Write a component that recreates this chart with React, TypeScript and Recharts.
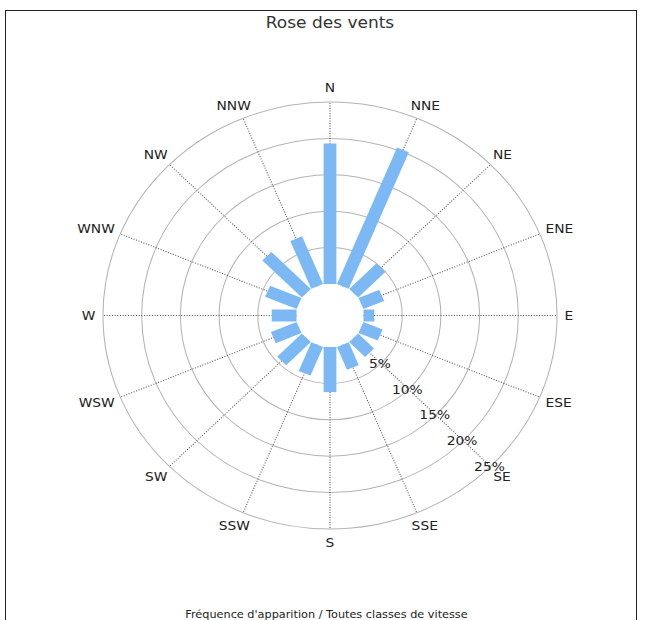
import React from 'react';
import { RadarChart, PolarGrid, PolarAngleAxis, PolarRadiusAxis, Radar } from 'recharts';

// ---- data ----
const directions = ['N', 'NNE', 'NE', 'ENE', 'E', 'ESE', 'SE', 'SSE', 'S', 'SSW', 'SW', 'WSW', 'W', 'WNW', 'NW', 'NNW'];
const frequencies = [19.3, 20.3, 5.0, 2.9, 1.4, 2.7, 2.9, 3.4, 6.2, 4.25, 4.5, 3.6, 3.2, 4.4, 7.2, 7.1];
const radiusTicks = [5, 10, 15, 20, 25];
const radiusDomain = [0, 25];
const titleText = 'Rose des vents';
const footerText = "Fréquence d'apparition / Toutes classes de vitesse";

const data = directions.map((dir, i) => ({ dir, value: frequencies[i] }));

// ---- layout ----
const W = 648;
const H = 620;
const CX = 330;
const CY = 315.5;
const INNER = 31.5;
const OUTER = 213.5;
const STRETCH_X = 1.0633;
const BAR_W = 12;
const BAR_COLOR = '#7cb9f4';
const FONT = '"DejaVu Sans", Verdana, sans-serif';
const LABEL_SIZE = 13;
const LABEL_GAP = 7;
const CHAR_EM: Record<string, number> = { N: 0.748, E: 0.632, S: 0.635, W: 0.989 };

const BarsShape = (props: any) => {
  const pts = props.points || [];
  return (
    <g className="wind-bars">
      {pts.map((p: any, i: number) => {
        const cx = p.cx ?? CX;
        const cy = p.cy ?? CY;
        const r = Math.hypot(p.x - cx, p.y - cy);
        if (!r || r <= INNER) return null;
        const ux = (p.x - cx) / r;
        const uy = (p.y - cy) / r;
        const nx = -uy * (BAR_W / 2);
        const ny = ux * (BAR_W / 2);
        const sx = cx + ux * INNER;
        const sy = cy + uy * INNER;
        const d = `M${sx + nx},${sy + ny} L${p.x + nx},${p.y + ny} L${p.x - nx},${p.y - ny} L${sx - nx},${sy - ny} Z`;
        return <path key={i} d={d} fill={BAR_COLOR} stroke="none" />;
      })}
    </g>
  );
};

const AngleTick = (props: any) => {
  const { x, y, payload } = props;
  const cx = props.cx ?? CX;
  const cy = props.cy ?? CY;
  const label = String(payload.value);
  const r = Math.hypot(x - cx, y - cy) || 1;
  const ux = (x - cx) / r;
  const uy = (y - cy) / r;
  const w = label.split('').reduce((s, c) => s + (CHAR_EM[c] ?? 0.7), 0) * LABEL_SIZE;
  const h = 14;
  const tx = cx + ux * (OUTER + LABEL_GAP) + ux * (w / 2);
  const ty = cy + uy * (OUTER + LABEL_GAP) + uy * (h / 2);
  return (
    <text x={tx} y={ty} textAnchor="middle" dominantBaseline="central" fontFamily={FONT} fontSize={LABEL_SIZE} fill="#222">
      {label}
    </text>
  );
};

const RadiusTick = (props: any) => {
  const { x, y, payload } = props;
  if (!payload || payload.value === 0) return null;
  return (
    <text x={x - 1} y={y} textAnchor="middle" dominantBaseline="central" fontFamily={FONT} fontSize={13} fill="#222">
      {`${payload.value}%`}
    </text>
  );
};

export default function App() {
  return (
    <div style={{ position: 'absolute', left: 0, top: 0, width: W, height: H, overflow: 'hidden', background: '#fff' }}>
      <div
        style={{
          position: 'absolute',
          left: 5,
          top: 10,
          width: 632,
          height: 680,
          border: '1px solid #222',
          boxSizing: 'border-box',
        }}
      />
      <div
        style={{
          position: 'absolute',
          left: 0,
          top: 0,
          width: W,
          height: H,
          transform: `scaleX(${STRETCH_X})`,
          transformOrigin: `${CX}px 0px`,
        }}
      >
        <RadarChart
          width={W}
          height={H}
          data={data}
          cx={CX}
          cy={CY}
          innerRadius={INNER}
          outerRadius={OUTER}
          startAngle={90}
          endAngle={-270}
          margin={{ top: 0, right: 0, bottom: 0, left: 0 }}
        >
          <PolarGrid gridType="circle" radialLines={false} stroke="#b4b4b4" strokeWidth={1} />
          <PolarGrid gridType="circle" polarRadius={[]} stroke="#555" strokeWidth={1} strokeDasharray="1 1.5" />
          <Radar dataKey="value" isAnimationActive={false} shape={BarsShape} fill={BAR_COLOR} stroke="none" dot={false} />
          <PolarAngleAxis dataKey="dir" tick={AngleTick} tickLine={false} axisLine={false} tickSize={16} />
          <PolarRadiusAxis
            type="number"
            angle={-45}
            domain={radiusDomain}
            ticks={radiusTicks}
            tickCount={6}
            axisLine={false}
            tickLine={false}
            tick={RadiusTick}
          />
        </RadarChart>
        <svg
          width={W}
          height={H}
          style={{ position: 'absolute', left: 0, top: 0, pointerEvents: 'none' }}
        >
          <text x={CX} y={23} textAnchor="middle" dominantBaseline="central" fontFamily={FONT} fontSize={16} fill="#333">
            {titleText}
          </text>
          <text x={326.7} y={615} textAnchor="middle" dominantBaseline="central" fontFamily={FONT} fontSize={10.6} fill="#222">
            {footerText}
          </text>
        </svg>
      </div>
    </div>
  );
}
